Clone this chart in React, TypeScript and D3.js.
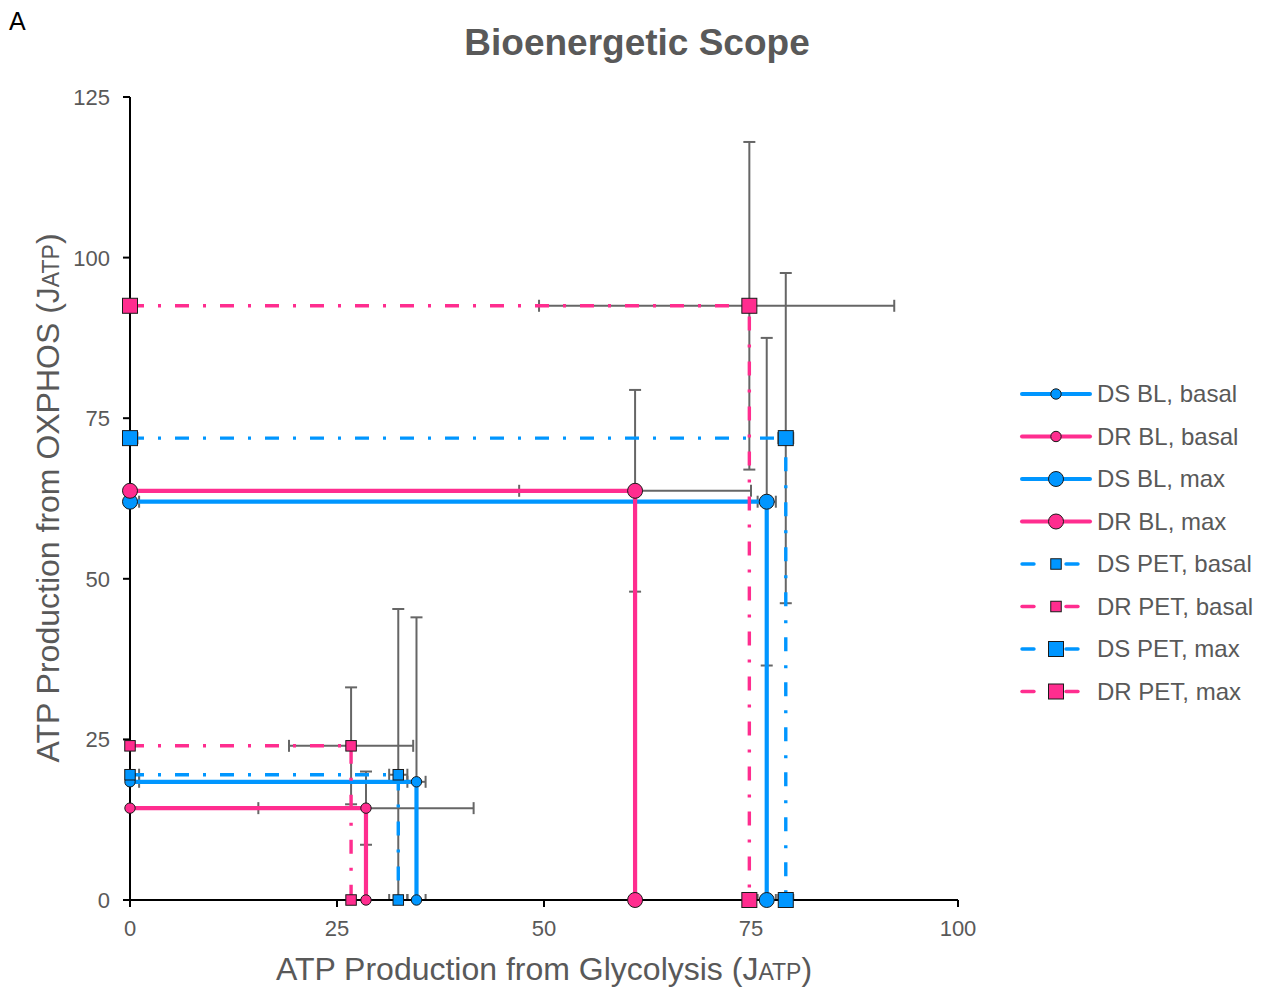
import React from "react";
import * as d3 from "d3";

// Series definitions: each series traces (0, oxphos) -> (glycolysis, oxphos) -> (glycolysis, 0)
const seriesNames = [
  "DS BL, basal",
  "DR BL, basal",
  "DS BL, max",
  "DR BL, max",
  "DS PET, basal",
  "DR PET, basal",
  "DS PET, max",
  "DR PET, max",
];
const seriesGroup = ["DS", "DR", "DS", "DR", "DS", "DR", "DS", "DR"];
const seriesCondition = ["BL", "BL", "BL", "BL", "PET", "PET", "PET", "PET"];
const seriesState = ["basal", "basal", "max", "max", "basal", "basal", "max", "max"];

// ATP production values (JATP)
const glycolysis = [34.6, 28.5, 76.9, 61.0, 32.4, 26.7, 79.2, 74.8];
const oxphos = [18.4, 14.3, 62.0, 63.7, 19.5, 24.0, 71.9, 92.5];
const glycolysisErrMinus = [1.1, 13.0, 1.1, 14.0, 1.1, 7.5, 0.9, 25.4];
const glycolysisErrPlus = [1.1, 13.0, 1.1, 14.0, 1.1, 7.5, 0.9, 17.5];
const oxphosErr = [25.6, 5.7, 25.5, 15.7, 25.8, 9.1, 25.7, 25.5];

const xTicks = [0, 25, 50, 75, 100];
const yTicks = [0, 25, 50, 75, 100, 125];

const COLORS: Record<string, string> = { DS: "#0096FF", DR: "#FF2D8F" };
const TEXT = "#595959";
const ERR = "#666666";
const FONT = "'Liberation Sans', Arial, Helvetica, sans-serif";
const DASHDOT = "14 14 3 14";

const W = 1268;
const H = 987;

export default function App() {
  const x = d3.scaleLinear().domain([0, 100]).range([130, 958]);
  const y = d3.scaleLinear().domain([0, 125]).range([900, 97]);
  const line = d3
    .line<[number, number]>()
    .x((d) => x(d[0]))
    .y((d) => y(d[1]));

  const cap = 6;

  const marker = (i: number, cx: number, cy: number, key: string) => {
    const color = COLORS[seriesGroup[i]];
    const big = seriesState[i] === "max";
    if (seriesCondition[i] === "BL") {
      const r = big ? 7.5 : 5.2;
      return <circle key={key} cx={cx} cy={cy} r={r} fill={color} stroke="#1a1a1a" strokeWidth={1} />;
    }
    const s = big ? 15 : 10.5;
    return (
      <rect key={key} x={cx - s / 2} y={cy - s / 2} width={s} height={s} fill={color} stroke="#1a1a1a" strokeWidth={1} />
    );
  };

  const errorBars: React.ReactNode[] = [];
  seriesNames.forEach((_, i) => {
    const gx = glycolysis[i];
    const oy = oxphos[i];
    const ey = oxphosErr[i];
    // vertical error at the corner point
    const y1 = y(oy + ey);
    const y2 = y(oy - ey);
    errorBars.push(
      <g key={`ey${i}`}>
        <line x1={x(gx)} x2={x(gx)} y1={y1} y2={y2} />
        <line x1={x(gx) - cap} x2={x(gx) + cap} y1={y1} y2={y1} />
        <line x1={x(gx) - cap} x2={x(gx) + cap} y1={y2} y2={y2} />
      </g>
    );
    // horizontal error: at the corner for all series, at every point for DS series
    const pts: [number, number][] =
      seriesGroup[i] === "DS" ? [[0, oy], [gx, oy], [gx, 0]] : [[gx, oy]];
    pts.forEach((p, k) => {
      const xa = x(p[0] - glycolysisErrMinus[i]);
      const xb = x(p[0] + glycolysisErrPlus[i]);
      const py = y(p[1]);
      errorBars.push(
        <g key={`ex${i}-${k}`}>
          <line x1={xa} x2={xb} y1={py} y2={py} />
          <line x1={xa} x2={xa} y1={py - cap} y2={py + cap} />
          <line x1={xb} x2={xb} y1={py - cap} y2={py + cap} />
        </g>
      );
    });
  });

  const legendY = [394, 436.5, 479, 521.5, 564, 606.5, 649, 691.5];

  return (
    <svg width={W} height={H} style={{ display: "block", position: "absolute", left: 0, top: 0 }} fontFamily={FONT}>
      <defs>
        <clipPath id="plotArea">
          <rect x={130} y={97} width={828} height={803} />
        </clipPath>
      </defs>
      <rect x={0} y={0} width={W} height={H} fill="#fff" />

      <text x={9} y={30} fontSize={25} fill="#000">A</text>
      <text x={637} y={55} fontSize={37} fontWeight="bold" fill={TEXT} textAnchor="middle">
        Bioenergetic Scope
      </text>

      {/* error bars */}
      <g clipPath="url(#plotArea)" stroke={ERR} strokeWidth={2} fill="none">
        {errorBars}
      </g>

      {/* axes */}
      <g stroke="#000" strokeWidth={2}>
        <line x1={130} x2={130} y1={y(125)} y2={y(0) + 1} />
        <line x1={129} x2={958} y1={y(0)} y2={y(0)} />
        {yTicks.map((t) => (
          <line key={`yt${t}`} x1={123} x2={130} y1={y(t)} y2={y(t)} />
        ))}
        {xTicks.map((t) => (
          <line key={`xt${t}`} x1={x(t)} x2={x(t)} y1={900} y2={907} />
        ))}
      </g>
      {yTicks.map((t) => (
        <text key={`yl${t}`} x={110} y={y(t) + 8} fontSize={22} fill={TEXT} textAnchor="end">
          {t}
        </text>
      ))}
      {xTicks.map((t) => (
        <text key={`xl${t}`} x={x(t)} y={936} fontSize={22} fill={TEXT} textAnchor="middle">
          {t}
        </text>
      ))}

      {/* series lines and markers */}
      {seriesNames.map((_, i) => {
        const pts: [number, number][] = [
          [0, oxphos[i]],
          [glycolysis[i], oxphos[i]],
          [glycolysis[i], 0],
        ];
        const solid = seriesCondition[i] === "BL";
        return (
          <g key={`s${i}`}>
            <path
              d={line(pts) || ""}
              fill="none"
              stroke={COLORS[seriesGroup[i]]}
              strokeWidth={solid ? 4.2 : 3.4}
              strokeDasharray={solid ? undefined : DASHDOT}
            />
            {pts.map((p, k) => marker(i, x(p[0]), y(p[1]), `m${i}-${k}`))}
          </g>
        );
      })}

      {/* axis titles */}
      <text x={544} y={980} fontSize={32} fill={TEXT} textAnchor="middle">
        ATP Production from Glycolysis (J<tspan fontSize={23}>ATP</tspan>)
      </text>
      <text transform="translate(59,498) rotate(-90)" fontSize={32} fill={TEXT} textAnchor="middle">
        ATP Production from OXPHOS (J<tspan fontSize={23}>ATP</tspan>)
      </text>

      {/* legend */}
      {seriesNames.map((name, i) => {
        const ly = legendY[i];
        const color = COLORS[seriesGroup[i]];
        const solid = seriesCondition[i] === "BL";
        return (
          <g key={`lg${i}`}>
            {solid ? (
              <line x1={1022} x2={1090} y1={ly} y2={ly} stroke={color} strokeWidth={4} strokeLinecap="round" />
            ) : (
              <g stroke={color} strokeWidth={3.4} strokeLinecap="round">
                <line x1={1022} x2={1034} y1={ly} y2={ly} />
                <line x1={1066} x2={1078} y1={ly} y2={ly} />
              </g>
            )}
            {marker(i, 1056, ly, `lm${i}`)}
            <text x={1097} y={ly + 8} fontSize={24} fill={TEXT}>
              {name}
            </text>
          </g>
        );
      })}
    </svg>
  );
}
